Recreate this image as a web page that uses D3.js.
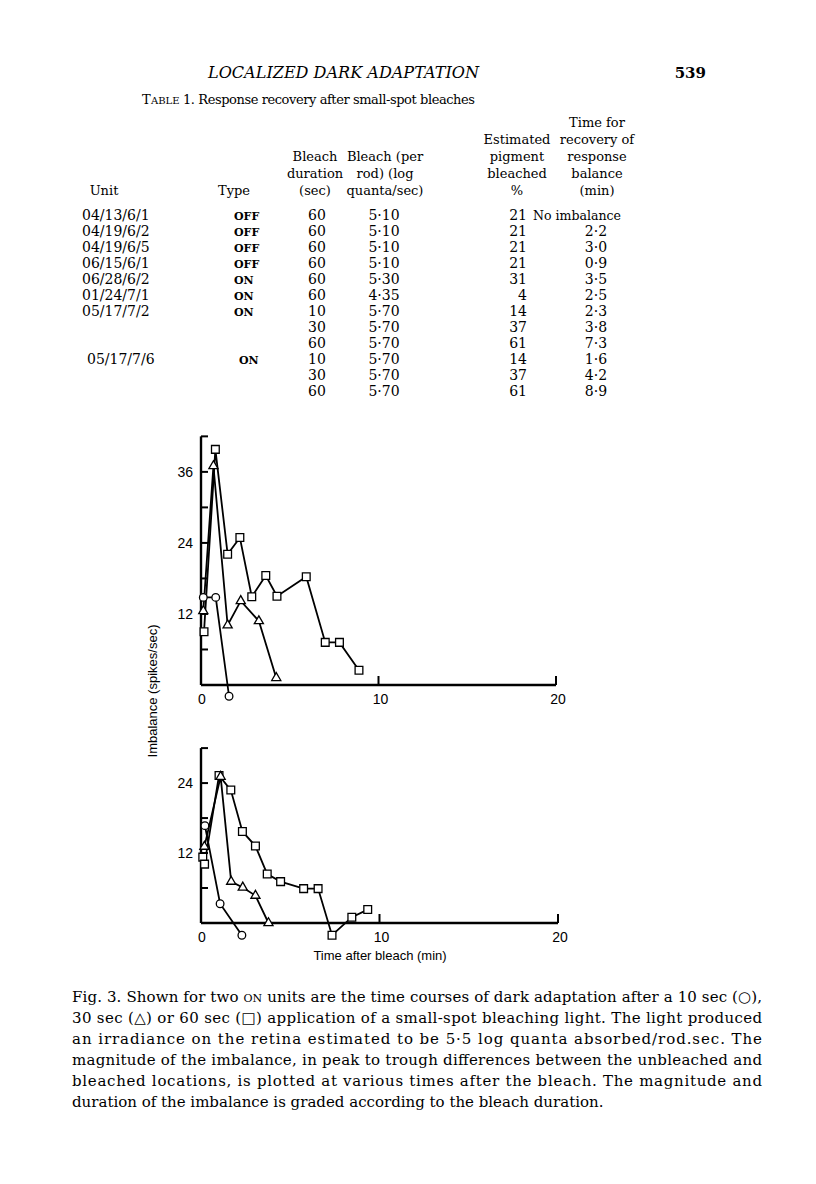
<!DOCTYPE html>
<html><head><meta charset="utf-8">
<script src="https://cdn.jsdelivr.net/npm/d3@7"></script>
<style>body{margin:0;background:#fff}</style>
</head><body>
<script>
// ---------- DATA ----------
const units = ["04/13/6/1","04/19/6/2","04/19/6/5","06/15/6/1","06/28/6/2","01/24/7/1","05/17/7/2","","","05/17/7/6","",""];
const types = ["OFF","OFF","OFF","OFF","ON","ON","ON","","","ON","",""];
const durations = ["60","60","60","60","60","60","10","30","60","10","30","60"];
const logQuanta = ["5·10","5·10","5·10","5·10","5·30","4·35","5·70","5·70","5·70","5·70","5·70","5·70"];
const pigment = ["21","21","21","21","31","4","14","37","61","14","37","61"];
const recovery = ["No imbalance","2·2","3·0","0·9","3·5","2·5","2·3","3·8","7·3","1·6","4·2","8·9"];

const xTicks = [0, 10, 20];
const yTicksTop = [12, 24, 36];
const yTicksBot = [12, 24];

// top panel (unit 05/17/7/2), [time min, imbalance spikes/sec]
const circleTop = [[0.13,14.8],[0.83,14.8],[1.58,-1.9]];
const triTop = [[0.13,12.5],[0.7,37],[1.5,10.1],[2.24,14.2],[3.26,10.8],[4.24,1.2]];
const sqTop = [[0.17,9.0],[0.81,39.8],[1.5,22.1],[2.19,24.9],[2.86,14.9],[3.65,18.5],[4.28,15.0],[5.93,18.3],[7.0,7.2],[7.8,7.2],[8.9,2.5]];
// bottom panel (unit 05/17/7/6)
const circleBot = [[0.22,16.7],[1.07,3.3],[2.29,-2.1]];
const triBot = [[0.19,13.1],[1.1,25.1],[1.69,7.1],[2.34,6.1],[3.05,4.7],[3.78,0]];
const sqBot = [[0.1,11.3],[0.2,10.1],[1.01,25.3],[1.67,22.8],[2.32,15.7],[3.05,13.2],[3.71,8.4],[4.46,7.1],[5.75,5.9],[6.56,5.9],[7.34,-2.1],[8.45,1.0],[9.34,2.3]];

const captionLines = [
  ["Fig. 3. Shown for two ", "ON", " units are the time courses of dark adaptation after a 10 sec (○),"],
  ["30 sec (△) or 60 sec (□) application of a small-spot bleaching light. The light produced"],
  ["an irradiance on the retina estimated to be 5·5 log quanta absorbed/rod.sec. The"],
  ["magnitude of the imbalance, in peak to trough differences between the unbleached and"],
  ["bleached locations, is plotted at various times after the bleach. The magnitude and"],
  ["duration of the imbalance is graded according to the bleach duration."]
];

// ---------- DRAW ----------
const W = 816, H = 1184;
const svg = d3.select("body").append("svg").attr("width", W).attr("height", H);
const serif = "'DejaVu Serif', serif";
const sans = "'Liberation Sans', Arial, sans-serif";

// running header
svg.append("text").attr("x", 208).attr("y", 78).attr("font-family", serif).attr("font-style","italic")
  .attr("font-size", 16).attr("textLength", 271).attr("lengthAdjust","spacingAndGlyphs").text("LOCALIZED DARK ADAPTATION");
svg.append("text").attr("x", 706).attr("y", 78).attr("text-anchor","end").attr("font-family", serif)
  .attr("font-weight","bold").attr("font-size", 15).text("539");

// table title
svg.append("text").attr("x", 142).attr("y", 104).attr("font-family", serif).attr("font-size", 13).text("T");
svg.append("text").attr("x", 151).attr("y", 104).attr("font-family", serif).attr("font-size", 10).text("ABLE");
svg.append("text").attr("x", 183).attr("y", 104).attr("font-family", serif).attr("font-size", 13)
  .attr("textLength", 292).attr("lengthAdjust","spacing").text("1. Response recovery after small-spot bleaches");

// column headers
const headers = [
  {x:104, lines:["","","","","Unit"]},
  {x:234, lines:["","","","","Type"]},
  {x:315, lines:["","","Bleach","duration","(sec)"]},
  {x:385, lines:["","","Bleach (per","rod) (log","quanta/sec)"]},
  {x:517, lines:["","Estimated","pigment","bleached","%"]},
  {x:597, lines:["Time for","recovery of","response","balance","(min)"]}
];
const hy = [127, 144, 161, 178, 195];
headers.forEach(h => h.lines.forEach((t, i) => {
  if (!t) return;
  svg.append("text").attr("x", h.x).attr("y", hy[i]).attr("text-anchor","middle")
    .attr("font-family", serif).attr("font-size", 13).text(t);
}));

// rows
const rowY = d3.scalePoint().domain(d3.range(units.length)).range([220, 396]);
const rows = svg.append("g").attr("font-family", serif).attr("font-size", 14);
units.forEach((u, i) => {
  const y = rowY(i);
  const shift = (i === 9) ? 5 : 0;
  rows.append("text").attr("x", 82 + shift).attr("y", y).text(u);
  rows.append("text").attr("x", 234 + shift).attr("y", y).attr("font-size", 11).attr("font-weight","bold").text(types[i]);
  rows.append("text").attr("x", 317).attr("y", y).attr("text-anchor","middle").text(durations[i]);
  rows.append("text").attr("x", 384).attr("y", y).attr("text-anchor","middle").text(logQuanta[i]);
  rows.append("text").attr("x", 527).attr("y", y).attr("text-anchor","end").text(pigment[i]);
  if (i === 0) rows.append("text").attr("x", 533).attr("y", y).attr("font-size", 13)
      .attr("textLength", 88).attr("lengthAdjust","spacingAndGlyphs").text(recovery[i]);
  else rows.append("text").attr("x", 596).attr("y", y).attr("text-anchor","middle").text(recovery[i]);
});

// ---------- PANELS ----------
function panel(cfg) {
  const x = d3.scaleLinear().domain([0, 20]).range([201, cfg.xEnd]);
  const y = d3.scaleLinear().domain([0, cfg.yMax]).range([cfg.base, cfg.base - cfg.yMax * cfg.k]);
  const g = svg.append("g");
  // y axis
  g.append("line").attr("x1", x(0)).attr("x2", x(0)).attr("y1", y(0)).attr("y2", y(cfg.yMax))
    .attr("stroke","#000").attr("stroke-width", 2.4);
  d3.range(6, cfg.yMax + 1, 6).forEach(v => {
    g.append("line").attr("x1", x(0)).attr("x2", x(0) + 7).attr("y1", y(v)).attr("y2", y(v))
      .attr("stroke","#000").attr("stroke-width", 2);
  });
  cfg.yTicks.forEach(v => {
    g.append("text").attr("x", 193).attr("y", y(v) + 5).attr("text-anchor","end")
      .attr("font-family", sans).attr("font-size", 14).text(v);
  });
  // x axis
  g.append("line").attr("x1", x(0)).attr("x2", x(20)).attr("y1", y(0)).attr("y2", y(0))
    .attr("stroke","#000").attr("stroke-width", 2.4);
  xTicks.filter(v => v > 0).forEach(v => {
    g.append("line").attr("x1", x(v)).attr("x2", x(v)).attr("y1", y(0)).attr("y2", y(0) - 9)
      .attr("stroke","#000").attr("stroke-width", 2);
  });
  xTicks.forEach(v => {
    g.append("text").attr("x", x(v) + (v === 0 ? 1 : 2)).attr("y", y(0) + 19).attr("text-anchor","middle")
      .attr("font-family", sans).attr("font-size", 14).text(v);
  });
  const line = d3.line().x(d => x(d[0])).y(d => y(d[1]));
  [cfg.sq, cfg.tri, cfg.circ].forEach(s => {
    g.append("path").attr("d", line(s)).attr("fill","none").attr("stroke","#000").attr("stroke-width", 1.8);
  });
  const mk = (data, type, size) => {
    g.selectAll(null).data(data).enter().append("path")
      .attr("transform", d => `translate(${x(d[0])},${y(d[1])})`)
      .attr("d", d3.symbol().type(type).size(size))
      .attr("fill","#fff").attr("stroke","#000").attr("stroke-width", 1.3);
  };
  mk(cfg.sq, d3.symbolSquare, 60);
  mk(cfg.tri, d3.symbolTriangle, 36);
  mk(cfg.circ, d3.symbolCircle, 46);
}

panel({base: 685, yMax: 42, k: 5.92, xEnd: 556, yTicks: yTicksTop, sq: sqTop, tri: triTop, circ: circleTop});
panel({base: 923, yMax: 30, k: 5.83, xEnd: 558, yTicks: yTicksBot, sq: sqBot, tri: triBot, circ: circleBot});

// axis titles
svg.append("text").attr("transform","translate(157,691) rotate(-90)").attr("text-anchor","middle")
  .attr("font-family", sans).attr("font-size", 13).text("Imbalance (spikes/sec)");
svg.append("text").attr("x", 380).attr("y", 960).attr("text-anchor","middle")
  .attr("font-family", sans).attr("font-size", 13).text("Time after bleach (min)");

// caption
captionLines.forEach((parts, i) => {
  const t = svg.append("text").attr("x", 72).attr("y", 1002 + i * 21)
    .attr("font-family", serif).attr("font-size", 15);
  if (i < 5) t.attr("textLength", 690).attr("lengthAdjust", "spacing");
  parts.forEach(p => {
    const ts = t.append("tspan").text(p);
    if (p === "ON") ts.attr("font-size", 11);
  });
});
</script>
</body></html>
